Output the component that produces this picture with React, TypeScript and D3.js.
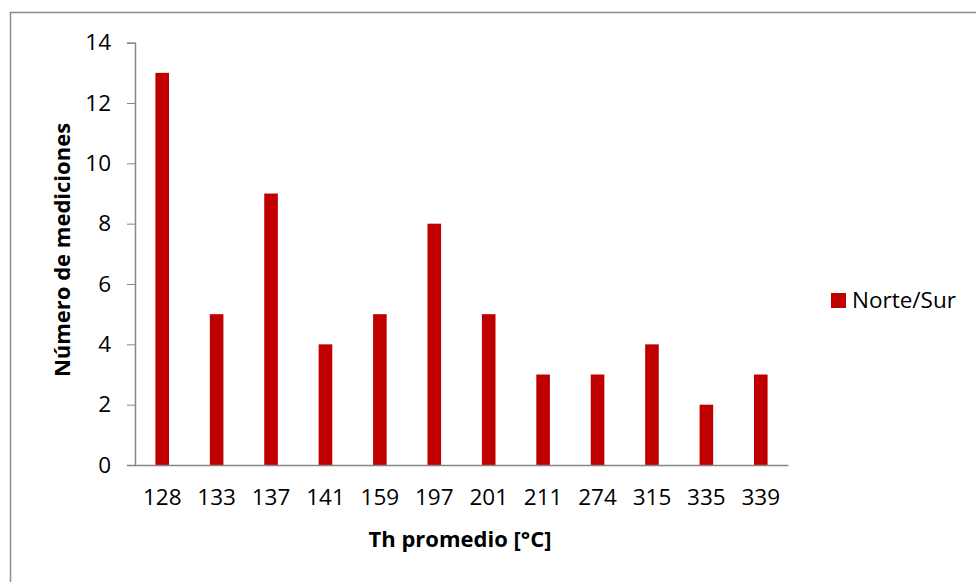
import React, { useEffect, useRef } from 'react';
import * as d3 from 'd3';

// Th promedio categories and counts
const categories = ['128', '133', '137', '141', '159', '197', '201', '211', '274', '315', '335', '339'];
const counts = [13, 5, 9, 4, 5, 8, 5, 3, 3, 4, 2, 3];
const yTicks = [0, 2, 4, 6, 8, 10, 12, 14];
const seriesName = 'Norte/Sur';

const W = 976;
const H = 582;
const FONT = '"Open Sans", "DejaVu Sans", sans-serif';

const App = () => {
  const ref = useRef<SVGSVGElement | null>(null);

  useEffect(() => {
    const svg = d3.select(ref.current);
    svg.selectAll('*').remove();

    const left = 135, right = 788, top = 42.7, bottom = 465;

    // outer chart border (only top/left visible)
    svg.append('rect')
      .attr('x', 10.5).attr('y', 12.5)
      .attr('width', 1000).attr('height', 700)
      .attr('fill', 'white').attr('stroke', '#8c8c8c').attr('stroke-width', 1.5);

    const x = d3.scaleBand<string>()
      .domain(categories)
      .range([left, right])
      .paddingInner(0.75)
      .paddingOuter(0.375);

    const y = d3.scaleLinear().domain([0, 14]).range([bottom, top]);

    // y axis
    const yAxis = svg.append('g')
      .attr('transform', `translate(${left},0)`)
      .call(d3.axisLeft(y).tickValues(yTicks).tickSize(8).tickPadding(16).tickFormat(d3.format('d')));
    yAxis.selectAll('line').attr('stroke', '#868686');
    yAxis.select('.domain').attr('stroke', '#868686').attr('stroke-width', 1.5);
    yAxis.selectAll('text').attr('font-family', FONT).attr('font-size', 22.5).attr('fill', '#000');

    // bars
    svg.append('g')
      .selectAll('rect')
      .data(counts)
      .join('rect')
      .attr('x', (_, i) => x(categories[i])!)
      .attr('y', d => y(d))
      .attr('width', x.bandwidth())
      .attr('height', d => bottom - y(d))
      .attr('fill', '#C00000');

    // x axis
    const xAxis = svg.append('g')
      .attr('transform', `translate(0,${bottom})`)
      .call(d3.axisBottom(x).tickSize(0).tickPadding(24).tickSizeOuter(0));
    xAxis.select('.domain').attr('stroke', '#868686').attr('stroke-width', 1.5);
    xAxis.selectAll('text').attr('font-family', FONT).attr('font-size', 22.5).attr('fill', '#000');

    // axis titles
    svg.append('text')
      .attr('x', 460).attr('y', 547)
      .attr('text-anchor', 'middle')
      .attr('font-family', FONT).attr('font-weight', 'bold').attr('font-size', 22)
      .text('Th promedio [°C]');

    svg.append('text')
      .attr('transform', `translate(70,250) rotate(-90)`)
      .attr('text-anchor', 'middle')
      .attr('font-family', FONT).attr('font-weight', 'bold').attr('font-size', 22)
      .text('Número de mediciones');

    // legend
    const lg = svg.append('g').attr('transform', 'translate(831,293)');
    lg.append('rect').attr('width', 15).attr('height', 15).attr('fill', '#C00000');
    lg.append('text')
      .attr('x', 21).attr('y', 15)
      .attr('font-family', FONT).attr('font-size', 22.5)
      .text(seriesName);
  }, []);

  return (
    <svg ref={ref} width={W} height={H} style={{ position: 'absolute', left: 0, top: 0, background: 'white' }} />
  );
};

export default App;
